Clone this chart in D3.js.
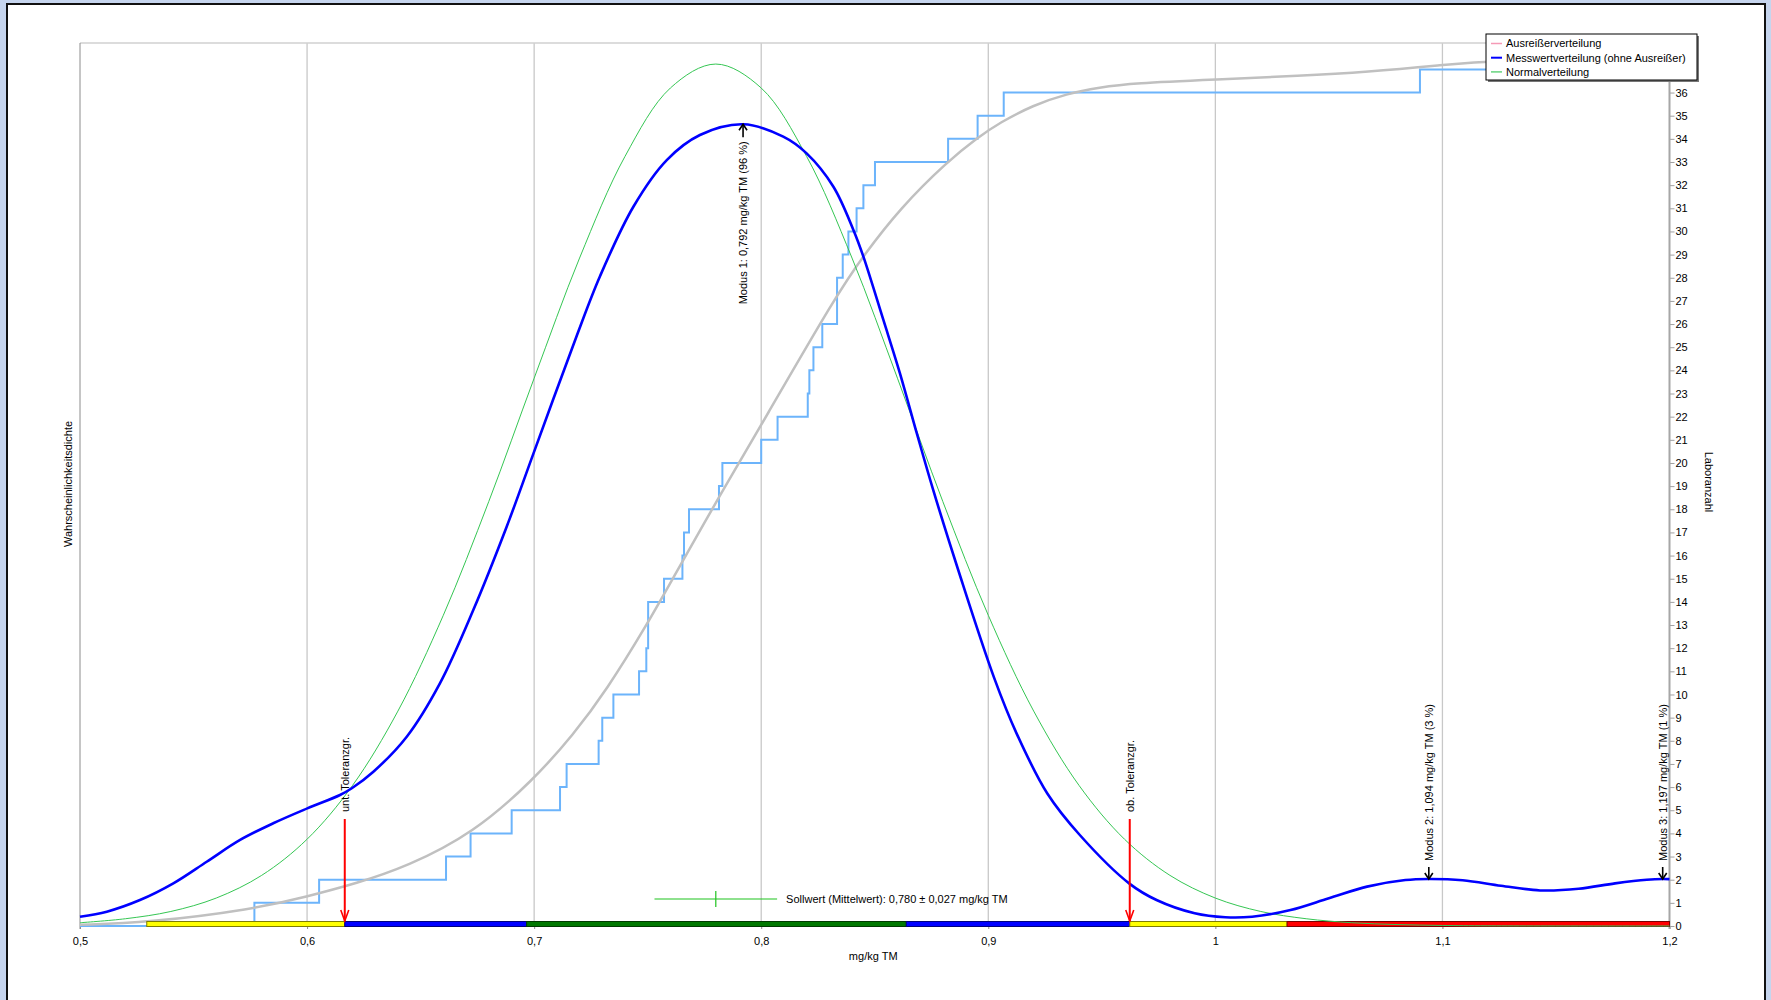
<!DOCTYPE html>
<html>
<head>
<meta charset="utf-8">
<script src="https://cdn.jsdelivr.net/npm/d3@7"></script>
<style>
  body { margin: 0; background: #c6d5ee; }
  text { font-family: 'Liberation Sans', Arial, sans-serif; font-size: 11px; fill: #000; }
</style>
</head>
<body>
<div id="chart"></div>
<script>
const labValues = [0.5768, 0.6053, 0.6612, 0.6720, 0.6901, 0.7114, 0.7143, 0.7284, 0.7300, 0.7349,
  0.7462, 0.7494, 0.7502, 0.7502, 0.7572, 0.7653, 0.7660, 0.7682, 0.7814, 0.7829,
  0.8000, 0.8072, 0.8205, 0.8212, 0.8230, 0.8269, 0.8334, 0.8334, 0.8359, 0.8384,
  0.8420, 0.8450, 0.8501, 0.8823, 0.8953, 0.9068, 1.0901];

// kernel density of the results (Messwertverteilung ohne Ausreisser)
const kdeX = [0.5, 0.5118, 0.5264, 0.5411, 0.5558, 0.5705, 0.5851, 0.6001, 0.6145, 0.6197,
  0.6292, 0.6439, 0.6585, 0.6732, 0.6879, 0.6996, 0.7184, 0.729, 0.7437, 0.7584,
  0.773, 0.7921, 0.8097, 0.82, 0.8318, 0.8406, 0.845, 0.8538, 0.8611, 0.8685,
  0.8758, 0.8868, 0.9025, 0.9125, 0.926, 0.9404, 0.9623, 0.9741, 0.9909, 1.0044, 1.0162,
  1.0331, 1.05, 1.0668, 1.0837, 1.0938, 1.1089, 1.1258, 1.143, 1.16, 1.176,
  1.19, 1.197, 1.2];
const kdeY = [0.051, 0.079, 0.143, 0.235, 0.354, 0.474, 0.566, 0.648, 0.722, 0.759,
  0.85, 1.043, 1.337, 1.741, 2.2, 2.6, 3.24, 3.58, 3.963, 4.22,
  4.358, 4.417, 4.349, 4.257, 4.073, 3.835, 3.688, 3.339, 3.045, 2.715,
  2.40, 1.96, 1.37, 1.06, 0.73, 0.50, 0.232, 0.143, 0.07, 0.048, 0.051,
  0.088, 0.153, 0.217, 0.253, 0.259, 0.252, 0.222, 0.196, 0.205, 0.235,
  0.255, 0.259, 0.258];

// Normalverteilung
const normX = [0.5, 0.52, 0.54, 0.56, 0.58, 0.6, 0.62, 0.64, 0.66, 0.68, 0.7, 0.72, 0.74, 0.76, 0.78,
  0.8, 0.82, 0.84, 0.86, 0.88, 0.9, 0.92, 0.94, 0.96, 0.98, 1.0, 1.02, 1.04, 1.06, 1.08, 1.1, 1.12, 1.2];
const normY = [0.018, 0.040, 0.080, 0.154, 0.279, 0.478, 0.774, 1.184, 1.712, 2.338, 3.018, 3.680, 4.240, 4.617, 4.749,
  4.617, 4.240, 3.680, 3.018, 2.338, 1.712, 1.184, 0.774, 0.478, 0.279, 0.154, 0.080, 0.040, 0.018, 0.008, 0.003, 0.001, 0];

// smooth cumulative curve (grey), in lab counts
const cdfX = [0.5, 0.5294, 0.5763, 0.6, 0.6218, 0.6439, 0.6732, 0.6996, 0.7172, 0.7319,
  0.7496, 0.7613, 0.776, 0.7863, 0.8, 0.8334, 0.845, 0.8611, 0.8823, 0.8953,
  0.905, 0.9197, 0.9345, 0.949, 0.9637, 1.0006, 1.0373, 1.0667, 1.1002, 1.1195, 1.2];
const cdfY = [0.05, 0.14, 0.72, 1.27, 1.84, 2.56, 4.0, 6.3, 8.25, 10.19,
  13.0, 15.05, 17.6, 19.35, 21.64, 27.3, 28.95, 31.0, 33.05, 34.05,
  34.7, 35.45, 35.95, 36.22, 36.4, 36.56, 36.72, 36.89, 37.19, 37.38, 37.56];

// assessment zones along the x axis
const zoneStart = [0.5294, 0.6166, 0.6967, 0.8639, 0.9623, 1.0316];
const zoneEnd = [0.6166, 0.6967, 0.8639, 0.9623, 1.0316, 1.2];
const zoneColor = ['#ffff00', '#0000ff', '#007800', '#0000ff', '#ffff00', '#ff0000'];

const tolValues = [0.6166, 0.9623];
const tolLabels = ['unt. Toleranzgr.', 'ob. Toleranzgr.'];

const modeValues = [0.792, 1.094, 1.197];
const modeDensity = [4.417, 0.259, 0.259];
const modeLabels = ['Modus 1: 0,792 mg/kg TM (96 %)', 'Modus 2: 1,094 mg/kg TM (3 %)', 'Modus 3: 1,197 mg/kg TM (1 %)'];
const modeBelow = [true, false, false];

const targetValue = 0.780;
const targetUnc = 0.027;
const targetLabel = 'Sollwert (Mittelwert): 0,780 \u00b1 0,027 mg/kg TM';

const xTicks = [0.5, 0.6, 0.7, 0.8, 0.9, 1.0, 1.1, 1.2];
const countTicks = d3.range(0, 39);

const legendLabels = ['Ausreißerverteilung', 'Messwertverteilung (ohne Ausreißer)', 'Normalverteilung'];
const legendColors = ['#f59ab6', '#0000ff', '#66d47e'];

const W = 1771, H = 1000;
const plot = { left: 80, right: 1669.5, top: 43, bottom: 926 };

const de = d3.formatLocale({ decimal: ',', thousands: '.', grouping: [3], currency: ['', ' €'] });
const fmt = de.format('.1~f');

const svg = d3.select('#chart').append('svg')
  .attr('width', W).attr('height', H);

svg.append('rect').attr('width', W).attr('height', H).attr('fill', '#c6d5ee');
svg.append('rect').attr('x', 7).attr('y', 4).attr('width', 1758).attr('height', 1010)
  .attr('fill', '#fff').attr('stroke', '#111').attr('stroke-width', 2);

const x = d3.scaleLinear().domain([0.5, 1.2]).range([plot.left, plot.right]);
const yCount = d3.scaleLinear().domain([0, 38.14]).range([plot.bottom, plot.top]);
const yDens = d3.scaleLinear().domain([0, 4.865]).range([plot.bottom, plot.top]);

const smooth = d3.curveCatmullRom.alpha(0.5);

// grid
svg.append('g')
  .selectAll('line')
  .data(xTicks.slice(1, -1))
  .enter().append('line')
  .attr('x1', d => x(d)).attr('x2', d => x(d))
  .attr('y1', plot.top).attr('y2', plot.bottom)
  .attr('stroke', '#c8c8c8').attr('stroke-width', 1.3);

svg.append('line')
  .attr('x1', plot.left).attr('x2', plot.right)
  .attr('y1', plot.top).attr('y2', plot.top)
  .attr('stroke', '#d0d0d0').attr('stroke-width', 1.5);
svg.append('line')
  .attr('x1', plot.left).attr('x2', plot.left)
  .attr('y1', plot.top).attr('y2', plot.bottom + 3)
  .attr('stroke', '#8c8c8c').attr('stroke-width', 1);
svg.append('line')
  .attr('x1', plot.left).attr('x2', plot.right)
  .attr('y1', plot.bottom).attr('y2', plot.bottom)
  .attr('stroke', '#a8a8a8').attr('stroke-width', 1);

// x axis
const xAxis = svg.append('g')
  .attr('transform', `translate(0, ${plot.bottom})`)
  .call(d3.axisBottom(x).tickValues(xTicks).tickFormat(fmt).tickSize(3).tickPadding(8));
xAxis.select('.domain').remove();
xAxis.selectAll('.tick line').attr('stroke', '#8c8c8c');
xAxis.selectAll('text').style('font-size', '11px').attr('font-family', null);

// right axis (Laboranzahl)
const yAxis = svg.append('g')
  .attr('transform', `translate(${plot.right}, 0)`)
  .call(d3.axisRight(yCount).tickValues(countTicks).tickFormat(d3.format('d')).tickSize(5).tickPadding(1));
yAxis.select('.domain').remove();
yAxis.selectAll('.tick line').attr('stroke', '#a0a0a0');
yAxis.selectAll('text').style('font-size', '11px').attr('font-family', null);
svg.append('line')
  .attr('x1', plot.right).attr('x2', plot.right)
  .attr('y1', plot.top).attr('y2', plot.bottom + 3)
  .attr('stroke', '#a6a6a6').attr('stroke-width', 2);

// cumulative step line of labs
const stepPts = [[0.5, 0]].concat(labValues.map((v, i) => [v, i + 1]), [[1.2, labValues.length]]);
svg.append('path')
  .datum(stepPts)
  .attr('fill', 'none')
  .attr('stroke', '#6cb4fb')
  .attr('stroke-width', 2)
  .attr('d', d3.line().x(d => x(d[0])).y(d => yCount(d[1])).curve(d3.curveStepAfter));

// smooth cumulative curve
svg.append('path')
  .datum(cdfX.map((v, i) => [v, cdfY[i]]))
  .attr('fill', 'none')
  .attr('stroke', '#c0c0c0')
  .attr('stroke-width', 2.5)
  .attr('d', d3.line().x(d => x(d[0])).y(d => yCount(d[1])).curve(d3.curveBasis));

// zone bar
svg.append('g')
  .selectAll('rect')
  .data(zoneStart)
  .enter().append('rect')
  .attr('x', d => x(d))
  .attr('width', (d, i) => x(zoneEnd[i]) - x(d))
  .attr('y', plot.bottom - 4.5)
  .attr('height', 5)
  .attr('fill', (d, i) => zoneColor[i])
  .attr('stroke', (d, i) => d3.color(zoneColor[i]).darker(2))
  .attr('stroke-width', 1);

// normal distribution
svg.append('path')
  .datum(normX.map((v, i) => [v, normY[i]]))
  .attr('fill', 'none')
  .attr('stroke', '#35c653')
  .attr('stroke-width', 1)
  .attr('d', d3.line().x(d => x(d[0])).y(d => yDens(d[1])).curve(smooth));

// kernel density
svg.append('path')
  .datum(kdeX.map((v, i) => [v, kdeY[i]]))
  .attr('fill', 'none')
  .attr('stroke', '#0000ff')
  .attr('stroke-width', 2.6)
  .attr('d', d3.line().x(d => x(d[0])).y(d => yDens(d[1])).curve(smooth));

// tolerance limits
const tol = svg.append('g').selectAll('g').data(tolValues).enter().append('g');
tol.append('line')
  .attr('x1', d => x(d)).attr('x2', d => x(d))
  .attr('y1', plot.bottom - 107).attr('y2', plot.bottom - 5)
  .attr('stroke', '#ff0000').attr('stroke-width', 2);
tol.append('path')
  .attr('d', d => `M${x(d) - 4},${plot.bottom - 16} L${x(d)},${plot.bottom - 5} L${x(d) + 4},${plot.bottom - 16}`)
  .attr('fill', 'none').attr('stroke', '#ff0000').attr('stroke-width', 1.6);
tol.append('text')
  .attr('transform', d => `translate(${x(d)}, ${plot.bottom - 114}) rotate(-90)`)
  .attr('dy', '0.35em')
  .text((d, i) => tolLabels[i]);

// modes
const modes = svg.append('g').selectAll('g').data(modeValues).enter().append('g');
modes.append('line')
  .attr('x1', d => x(d)).attr('x2', d => x(d))
  .attr('y1', (d, i) => yDens(modeDensity[i]))
  .attr('y2', (d, i) => yDens(modeDensity[i]) + (modeBelow[i] ? 13 : -12))
  .attr('stroke', '#000').attr('stroke-width', 1.6);
modes.append('path')
  .attr('d', (d, i) => {
    const t = yDens(modeDensity[i]);
    const s = modeBelow[i] ? 6 : -6;
    return `M${x(d) - 4},${t + s} L${x(d)},${t} L${x(d) + 4},${t + s}`;
  })
  .attr('fill', 'none').attr('stroke', '#000').attr('stroke-width', 1.6);
modes.append('text')
  .attr('transform', (d, i) => `translate(${x(d)}, ${yDens(modeDensity[i]) + (modeBelow[i] ? 17 : -18)}) rotate(-90)`)
  .attr('dy', '0.35em')
  .attr('text-anchor', (d, i) => modeBelow[i] ? 'end' : 'start')
  .text((d, i) => modeLabels[i]);

// target value with uncertainty
const targetY = 899;
svg.append('line')
  .attr('x1', x(targetValue - targetUnc)).attr('x2', x(targetValue + targetUnc))
  .attr('y1', targetY).attr('y2', targetY)
  .attr('stroke', '#1ec31e').attr('stroke-width', 1.2);
svg.append('line')
  .attr('x1', x(targetValue)).attr('x2', x(targetValue))
  .attr('y1', targetY - 8).attr('y2', targetY + 8)
  .attr('stroke', '#1ec31e').attr('stroke-width', 1.2);
svg.append('text')
  .attr('x', x(targetValue + targetUnc) + 9)
  .attr('y', targetY)
  .attr('dy', '0.35em')
  .text(targetLabel);

// axis titles
svg.append('text')
  .attr('transform', `translate(68, 484) rotate(-90)`)
  .attr('text-anchor', 'middle')
  .attr('dy', '0.35em')
  .text('Wahrscheinlichkeitsdichte');
svg.append('text')
  .attr('transform', `translate(1709, 482) rotate(90)`)
  .attr('text-anchor', 'middle')
  .attr('dy', '0.35em')
  .text('Laboranzahl');
svg.append('text')
  .attr('x', x(0.8) + 112)
  .attr('y', 956)
  .attr('text-anchor', 'middle')
  .attr('dy', '0.35em')
  .text('mg/kg TM');

// legend
const legend = svg.append('g').attr('transform', 'translate(1486, 34)');
legend.append('rect').attr('x', 2).attr('y', 2).attr('width', 211).attr('height', 46).attr('fill', '#777');
legend.append('rect').attr('width', 211).attr('height', 46)
  .attr('fill', '#fff').attr('stroke', '#000').attr('stroke-width', 1);
const items = legend.selectAll('.item').data(legendLabels).enter().append('g')
  .attr('class', 'item')
  .attr('transform', (d, i) => `translate(0, ${9.5 + i * 14.2})`);
items.append('line')
  .attr('x1', 5).attr('x2', 16)
  .attr('stroke', (d, i) => legendColors[i])
  .attr('stroke-width', (d, i) => i === 1 ? 2 : 1.5);
items.append('text')
  .attr('x', 20)
  .attr('dy', '0.35em')
  .text(d => d);
</script>
</body>
</html>
